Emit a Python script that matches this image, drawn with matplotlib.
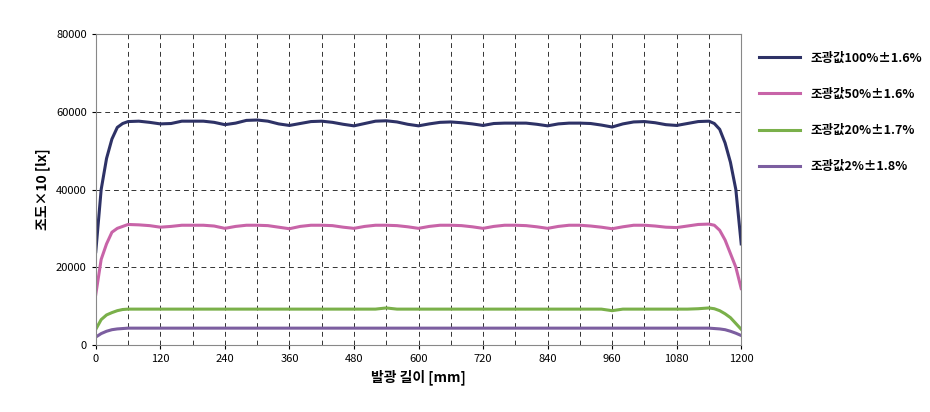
import matplotlib
matplotlib.use("Agg")
import matplotlib.pyplot as plt

plt.rcParams['font.family'] = ['Noto Sans CJK KR', 'DejaVu Sans']

x_mm = [0, 10, 20, 30, 40, 50,
        60, 80, 100, 120, 140, 160, 180, 200, 220, 240, 260, 280, 300, 320, 340,
        360, 380, 400, 420, 440, 460, 480, 500, 520, 540, 560, 580, 600, 620, 640,
        660, 680, 700, 720, 740, 760, 780, 800, 820, 840, 860, 880, 900, 920, 940,
        960, 980, 1000, 1020, 1040, 1060, 1080, 1100, 1120, 1140,
        1150, 1160, 1170, 1180, 1190, 1200]

lux_100 = [24000, 40000, 48000, 53000, 56000, 57000,
           57500, 57600, 57300, 56900, 57000, 57600, 57600, 57600, 57300, 56700, 57100, 57800, 57900, 57600, 56900,
           56500, 57000, 57500, 57600, 57300, 56800, 56400, 57000, 57600, 57700, 57400, 56800, 56400, 56900, 57300,
           57400, 57200, 56900, 56500, 57000, 57100, 57100, 57100, 56800, 56400, 56900, 57100, 57100, 57000, 56600,
           56100, 56900, 57400, 57500, 57200, 56700, 56500, 57000, 57500, 57600,
           57000, 55500, 52000, 47000, 40000, 26000]

lux_50 = [13000, 22000, 26000, 29000, 30000, 30500,
          31000, 30900, 30700, 30300, 30500, 30800, 30800, 30800, 30600, 30000, 30500, 30800, 30800, 30700, 30300,
          29900, 30500, 30800, 30800, 30700, 30300, 30000, 30500, 30800, 30800, 30700, 30400, 30000, 30500, 30800,
          30800, 30700, 30400, 30000, 30500, 30800, 30800, 30700, 30400, 30000, 30500, 30800, 30800, 30600, 30300,
          29900, 30400, 30800, 30800, 30600, 30300, 30200, 30600, 31000, 31100,
          30800, 29500, 27000, 23500, 20000, 14500]

lux_20 = [4000, 6500, 7700, 8300, 8800, 9100,
          9200, 9200, 9200, 9200, 9200, 9200, 9200, 9200, 9200, 9200, 9200, 9200, 9200, 9200, 9200,
          9200, 9200, 9200, 9200, 9200, 9200, 9200, 9200, 9200, 9500, 9200, 9200, 9200, 9200, 9200,
          9200, 9200, 9200, 9200, 9200, 9200, 9200, 9200, 9200, 9200, 9200, 9200, 9200, 9200, 9200,
          8800, 9200, 9200, 9200, 9200, 9200, 9200, 9200, 9300, 9500,
          9300, 8800, 8000, 7000, 5500, 4000]

lux_2 = [2000, 2900, 3500, 3900, 4100, 4200,
         4300, 4300, 4300, 4300, 4300, 4300, 4300, 4300, 4300, 4300, 4300, 4300, 4300, 4300, 4300,
         4300, 4300, 4300, 4300, 4300, 4300, 4300, 4300, 4300, 4300, 4300, 4300, 4300, 4300, 4300,
         4300, 4300, 4300, 4300, 4300, 4300, 4300, 4300, 4300, 4300, 4300, 4300, 4300, 4300, 4300,
         4300, 4300, 4300, 4300, 4300, 4300, 4300, 4300, 4300, 4300,
         4200, 4100, 3900, 3500, 3000, 2400]

labels = ["조광값100%±1.6%", "조광값50%±1.6%", "조광값20%±1.7%", "조광값2%±1.8%"]
colors = ["#2e3266", "#c864a8", "#7ab04a", "#7c5ea0"]

fig = plt.figure(figsize=(9.3, 4.12), dpi=100)
ax = fig.add_axes([0.103, 0.163, 0.694, 0.754])
for ys, lab, c in zip([lux_100, lux_50, lux_20, lux_2], labels, colors):
    ax.plot(x_mm, ys, color=c, lw=2.2, label=lab)

ax.set_xlim(0, 1200); ax.set_ylim(0, 80000)
ax.set_xticks(range(0, 1201, 120))
ax.set_xticks(range(0, 1201, 60), minor=True)
ax.set_yticks(range(0, 80001, 20000))
ax.tick_params(labelsize=8, length=3)
ax.tick_params(which='minor', length=0)
ax.grid(True, which='both', axis='x', color='black', ls=(0, (5, 4)), lw=0.7, alpha=0.8)
ax.grid(True, axis='y', color='black', ls=(0, (5, 4)), lw=0.7, alpha=0.8)
for s in ax.spines.values():
    s.set_color('#888888')
ax.set_xlabel("발광 길이 [mm]", fontsize=10, fontweight='bold')
ax.set_ylabel("조도×10 [lx]", fontsize=10, fontweight='bold')
ax.legend(loc='upper left', bbox_to_anchor=(1.01, 0.98), frameon=False,
          prop={'size': 9, 'weight': 'bold'}, labelspacing=1.85, handlelength=3.3)

fig.savefig("out.png", dpi=100)
